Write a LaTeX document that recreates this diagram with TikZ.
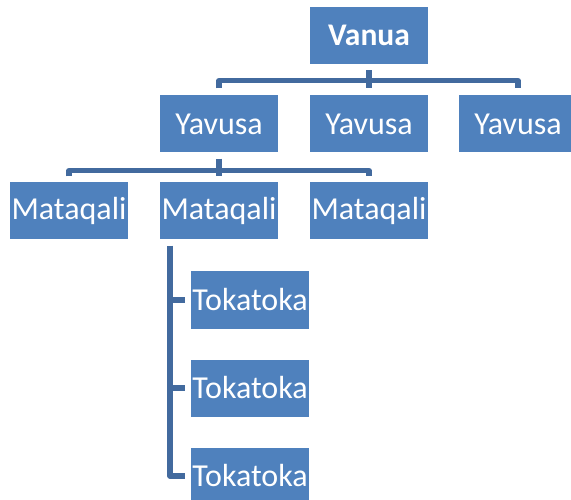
\documentclass[tikz,border=0pt]{standalone}
\usepackage{fontspec}
\setmainfont{Carlito}
\usetikzlibrary{calc}
\definecolor{boxblue}{HTML}{4F81BD}
\definecolor{lineblue}{RGB}{66,106,158}
\begin{document}
\begin{tikzpicture}[x=1pt,y=-1pt,
  box/.style={fill=boxblue,draw=none,minimum width=118pt,minimum height=57pt,inner sep=0pt,text=white,font=\fontsize{32}{38}\selectfont},
  conn/.style={draw=lineblue,line width=5.5pt,line join=round}]
\useasboundingbox (0,0) rectangle (571,500);
\begin{scope}
\clip (0,0) rectangle (571,500);
\node[box,font=\fontsize{31.5}{38}\selectfont\bfseries] (v) at (369,35.5) {Vanua};
\node[box] (y1) at (219,124) {Yavusa};
\node[box] (y2) at (369,124) {Yavusa};
\node[box] (y3) at (518,124) {Yavusa};
\node[box] (m1) at (69,211) {Mataqali};
\node[box] (m2) at (219,211) {Mataqali};
\node[box] (m3) at (369,211) {Mataqali};
\node[box] (t1) at (250,300) {Tokatoka};
\node[box] (t2) at (250,388) {Tokatoka};
\node[box] (t3) at (250,476) {Tokatoka};
\end{scope}
% level 1
\draw[conn] ($(y1.north)+(0,-7)$) |- ($(v.south)+(0,16.5)$) -| ($(y3.north)+(0,-7)$);
\draw[conn] ($(v.south)+(0,6)$) -- ($(y2.north)+(0,-7)$);
% level 2
\draw[conn] ($(m1.north)+(0,-6)$) |- ($(y1.south)+(0,18)$) -| ($(m3.north)+(0,-6)$);
\draw[conn] ($(y1.south)+(0,6)$) -- ($(m2.north)+(0,-6)$);
% level 3
\coordinate (spine) at ($(m2.south)+(-49,6)$);
\draw[conn] (spine) |- ($(t3.west)+(-6,0)$);
\draw[conn] (spine |- t1.west) -- ($(t1.west)+(-6,0)$);
\draw[conn] (spine |- t2.west) -- ($(t2.west)+(-6,0)$);
\end{tikzpicture}
\end{document}
